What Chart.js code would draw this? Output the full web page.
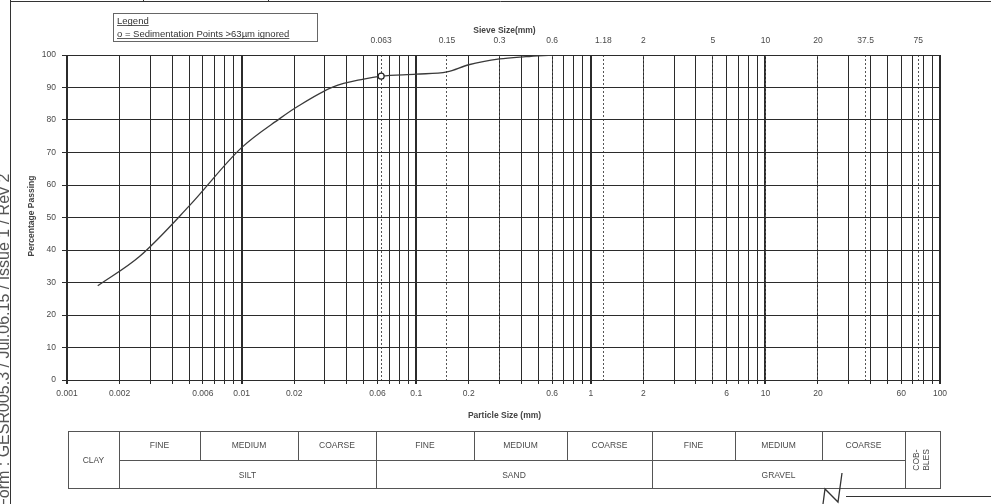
<!DOCTYPE html>
<html>
<head>
<meta charset="utf-8">
<script src="https://cdn.jsdelivr.net/npm/chart.js@4.4.1/dist/chart.umd.min.js"></script>
<style>
html,body{margin:0;padding:0;background:#fff;}
canvas{display:block;}
</style>
</head>
<body>
<canvas id="gradingChart" width="991" height="504"></canvas>
<script>
// grading curve (particle size mm / % passing)
var sizes   = [0.0015, 0.0026, 0.005, 0.01, 0.0166, 0.0207, 0.0335, 0.05, 0.063, 0.1, 0.15, 0.2, 0.3, 0.425, 0.6];
var passing = [29, 38, 53.5, 71.5, 80.5, 84, 90.2, 92.6, 93.5, 94.1, 94.8, 97, 98.8, 99.5, 100];

// sedimentation point shown with "o"
var markSizes   = [0.063];
var markPassing = [93.5];

// axis labels
var particleLabels = [0.001, 0.002, 0.006, 0.01, 0.02, 0.06, 0.1, 0.2, 0.6, 1, 2, 6, 10, 20, 60, 100];
var sieveSizes     = [0.063, 0.15, 0.3, 0.6, 1.18, 2, 5, 10, 20, 37.5, 75];

// classification table under the chart
var classTop    = ['FINE', 'MEDIUM', 'COARSE', 'FINE', 'MEDIUM', 'COARSE', 'FINE', 'MEDIUM', 'COARSE'];
var classBottom = ['SILT', 'SAND', 'GRAVEL'];

var INK = '#2b2b2b';
var TXT = '#4a4a4a';
Chart.defaults.font.family = "'Liberation Sans', Arial, sans-serif";

function sameVal(a, b){ return Math.abs(Math.log10(a) - Math.log10(b)) < 1e-6; }
function isDecade(v){ var l = Math.log10(v); return Math.abs(l - Math.round(l)) < 1e-6; }

// 1..9 x 10^n lines for the log paper
function logPaper(){
	var t = [];
	for (var e = -3; e <= 1; e++) {
		for (var m = 1; m <= 9; m++) t.push({value: Number((m * Math.pow(10, e)).toPrecision(6))});
	}
	t.push({value: 100});
	return t;
}

var sheetDecor = {
	id: 'sheetDecor',
	beforeDraw: function(chart){
		var ctx = chart.ctx;
		ctx.save();
		ctx.fillStyle = '#fff';
		ctx.fillRect(0, 0, chart.width, chart.height);
		ctx.restore();
	},
	afterDraw: function(chart){
		var ctx = chart.ctx;
		ctx.save();

		// frame of the form
		ctx.strokeStyle = '#333';
		ctx.lineWidth = 1;
		ctx.beginPath();
		ctx.moveTo(10.5, 0); ctx.lineTo(10.5, 504);
		ctx.moveTo(10, 1.5); ctx.lineTo(991, 1.5);
		ctx.moveTo(143.5, 0); ctx.lineTo(143.5, 2);
		ctx.moveTo(268.5, 0); ctx.lineTo(268.5, 2);
		ctx.moveTo(846, 496.5); ctx.lineTo(991, 496.5);
		ctx.stroke();

		// form reference on the margin
		ctx.save();
		ctx.translate(9, 508);
		ctx.rotate(-Math.PI / 2);
		ctx.fillStyle = '#555';
		ctx.font = '16px "Liberation Sans", Arial, sans-serif';
		ctx.textAlign = 'left';
		ctx.textBaseline = 'alphabetic';
		ctx.fillText('Form : GESR005.3 / Jul.06.15 / Issue 1 / Rev 2', 0, 0);
		ctx.restore();

		// legend box
		ctx.strokeStyle = '#666';
		ctx.strokeRect(113.5, 13.5, 204, 28);
		ctx.fillStyle = '#333';
		ctx.font = '9.5px "Liberation Sans", Arial, sans-serif';
		ctx.textAlign = 'left';
		ctx.textBaseline = 'alphabetic';
		var l1 = 'Legend', l2 = 'o = Sedimentation Points >63\u00b5m ignored';
		ctx.fillText(l1, 117, 24);
		ctx.fillText(l2, 117, 37);
		ctx.fillRect(117, 25, ctx.measureText(l1).width, 0.8);
		ctx.fillRect(117, 38, ctx.measureText(l2).width, 0.8);

		// axis titles
		var ca = chart.chartArea;
		var mid = (ca.left + ca.right) / 2 + 1;
		ctx.fillStyle = '#444';
		ctx.font = 'bold 8.5px "Liberation Sans", Arial, sans-serif';
		ctx.textAlign = 'center';
		ctx.textBaseline = 'middle';
		ctx.fillText('Sieve Size(mm)', mid, 31);
		ctx.fillText('Particle Size (mm)', mid, 416);
		ctx.save();
		ctx.translate(32, 216);
		ctx.rotate(-Math.PI / 2);
		ctx.fillText('Percentage Passing', 0, 0);
		ctx.restore();

		// classification table
		var L = 68, R = 940, T = 431.5, M = 460.5, B = 488.5;
		var full = [119, 376, 652, 905];
		var half = [200, 298, 474, 567, 735, 822];
		var topCells = [119, 200, 298, 376, 474, 567, 652, 735, 822, 905];
		var botCells = [119, 376, 652, 905];
		ctx.strokeStyle = '#555';
		ctx.lineWidth = 1;
		ctx.strokeRect(L + 0.5, T, R - L, B - T);
		ctx.beginPath();
		ctx.moveTo(119, M); ctx.lineTo(905, M);
		full.forEach(function(x){ ctx.moveTo(x + 0.5, T); ctx.lineTo(x + 0.5, B); });
		half.forEach(function(x){ ctx.moveTo(x + 0.5, T); ctx.lineTo(x + 0.5, M); });
		ctx.stroke();

		ctx.fillStyle = TXT;
		ctx.font = '8.5px "Liberation Sans", Arial, sans-serif';
		ctx.textAlign = 'center';
		ctx.textBaseline = 'middle';
		classTop.forEach(function(s, i){ ctx.fillText(s, (topCells[i] + topCells[i + 1]) / 2, 446); });
		classBottom.forEach(function(s, i){ ctx.fillText(s, (botCells[i] + botCells[i + 1]) / 2, 476); });
		ctx.fillText('CLAY', (L + 119) / 2, 461);
		ctx.save();
		ctx.translate(922, 460);
		ctx.rotate(-Math.PI / 2);
		ctx.fillText('COB-', 0, -5);
		ctx.fillText('BLES', 0, 5);
		ctx.restore();

		// signature stroke
		ctx.strokeStyle = '#333';
		ctx.lineWidth = 1.3;
		ctx.beginPath();
		ctx.moveTo(823, 504); ctx.lineTo(825, 489); ctx.lineTo(838, 502); ctx.lineTo(842, 473);
		ctx.stroke();

		ctx.restore();
	}
};

var ctx = document.getElementById('gradingChart').getContext('2d');
var gradingChart = new Chart(ctx, {
	type: 'scatter',
	data: {
		datasets: [{
			data: sizes.map(function(s, i){ return {x: s, y: passing[i]}; }),
			showLine: true,
			borderColor: '#3a3a3a',
			borderWidth: 1.3,
			cubicInterpolationMode: 'monotone',
			pointRadius: 0,
			order: 2
		}, {
			data: markSizes.map(function(s, i){ return {x: s, y: markPassing[i]}; }),
			pointRadius: 3,
			pointBackgroundColor: '#fff',
			pointBorderColor: '#222',
			pointBorderWidth: 1.2,
			order: 1
		}]
	},
	options: {
		responsive: false,
		animation: false,
		devicePixelRatio: 1,
		layout: {padding: {left: 0, top: 0, right: 51, bottom: 0}},
		plugins: {legend: {display: false}, tooltip: {enabled: false}},
		scales: {
			x: {
				type: 'logarithmic',
				position: 'bottom',
				min: 0.001, max: 100,
				afterBuildTicks: function(scale){ scale.ticks = logPaper(); },
				afterFit: function(scale){ scale.height = 124; },
				grid: {
					color: INK,
					lineWidth: function(c){ return c.tick && isDecade(c.tick.value) ? 2 : 1; },
					tickLength: 4
				},
				border: {display: true, color: INK, width: 1},
				ticks: {
					autoSkip: false, maxRotation: 0, minRotation: 0, padding: 5,
					color: TXT, font: {size: 8.5},
					callback: function(v){
						for (var i = 0; i < particleLabels.length; i++) if (sameVal(v, particleLabels[i])) return String(particleLabels[i]);
						return '';
					}
				}
			},
			x2: {
				type: 'logarithmic',
				position: 'top',
				min: 0.001, max: 100,
				afterBuildTicks: function(scale){ scale.ticks = sieveSizes.map(function(v){ return {value: v}; }); },
				afterFit: function(scale){ scale.height = 55; },
				grid: {color: '#555', lineWidth: 1, drawTicks: false},
				border: {display: false, dash: [2, 2]},
				ticks: {
					autoSkip: false, maxRotation: 0, minRotation: 0, padding: 9,
					color: TXT, font: {size: 8.5},
					callback: function(v){ return String(v); }
				}
			},
			y: {
				min: 0, max: 100,
				afterFit: function(scale){ scale.width = 67; },
				grid: {color: INK, lineWidth: 1, tickLength: 5},
				border: {display: true, color: INK, width: 1},
				ticks: {stepSize: 10, padding: 6, color: TXT, font: {size: 8.5}}
			}
		}
	},
	plugins: [sheetDecor]
});
</script>
</body>
</html>
